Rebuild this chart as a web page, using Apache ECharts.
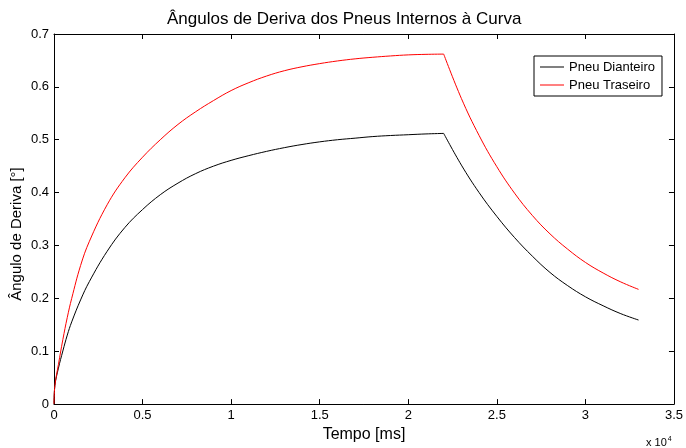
<!DOCTYPE html>
<html>
<head>
<meta charset="utf-8">
<script src="https://cdn.jsdelivr.net/npm/echarts@6/dist/echarts.min.js"></script>
<style>
  html, body { margin: 0; padding: 0; background: #fff; }
  #chart { width: 686px; height: 448px; }
</style>
</head>
<body>
<div id="chart"></div>
<script>
// Simulation time samples [ms]
const timeMs = [
  0, 50, 250, 500, 750, 1000, 1500, 2000, 3000, 4000, 5000, 6000, 7000, 8000,
  9000, 10000, 11000, 12000, 13000, 14000, 15000, 16000, 17000, 18000, 19000,
  20000, 21000, 22000, 23000, 24000, 25000, 26000, 27000, 28000, 29000, 30000,
  31000, 32000, 33000
];

// Slip angle of the front inner tyre [deg]
const pneuDianteiro = [
  0, 0.035, 0.068, 0.1005, 0.1305, 0.1555, 0.197, 0.232, 0.289, 0.334, 0.368, 0.396,
  0.418, 0.436, 0.45, 0.461, 0.47, 0.478, 0.485, 0.491, 0.496, 0.5, 0.503,
  0.506, 0.508, 0.5095, 0.511, 0.512, 0.452, 0.4, 0.355, 0.315, 0.28, 0.249,
  0.224, 0.203, 0.186, 0.171, 0.159
];

// Slip angle of the rear inner tyre [deg]
const pneuTraseiro = [
  0, 0.035, 0.075, 0.122, 0.164, 0.2, 0.262, 0.308, 0.377, 0.428, 0.467, 0.5,
  0.529, 0.553, 0.574, 0.593, 0.608, 0.6205, 0.6305, 0.638, 0.644, 0.649, 0.653,
  0.656, 0.6585, 0.6605, 0.6615, 0.662, 0.578, 0.508, 0.449, 0.399, 0.357, 0.322,
  0.293, 0.268, 0.248, 0.231, 0.217
];

// Instant the steering input is released [ms]
const tRelease = 22000;

const seriesNames = ['Pneu Dianteiro', 'Pneu Traseiro'];
const seriesColors = ['#000000', '#ff0000'];
const xTickStep = 5000;
const yTickStep = 0.1;

const FONT = 'Liberation Sans, Arial, sans-serif';

// Split a response into its build-up and decay branches so that each branch
// is smoothed on its own and the corner at the release instant stays sharp.
function branches(ys) {
  const pts = timeMs.map((t, i) => [t, ys[i]]);
  return [pts.filter(p => p[0] <= tRelease), pts.filter(p => p[0] >= tRelease)];
}

function lineSeries(name, color, data) {
  return {
    name,
    type: 'line',
    data,
    showSymbol: false,
    symbol: 'none',
    smooth: 0.4,
    color,
    lineStyle: { color, width: 1 },
    emphasis: { disabled: true }
  };
}

const series = [];
[pneuDianteiro, pneuTraseiro].forEach((ys, k) => {
  branches(ys).forEach(part => series.push(lineSeries(seriesNames[k], seriesColors[k], part)));
});

const axisLineStyle = { show: true, onZero: false, lineStyle: { color: '#000', width: 1 } };
const tickInside = { show: true, inside: true, length: 5, lineStyle: { color: '#000', width: 1 } };

const chart = echarts.init(document.getElementById('chart'), null, { renderer: 'canvas' });

chart.setOption({
  animation: false,
  backgroundColor: '#fff',
  textStyle: { fontFamily: FONT, color: '#000' },
  title: {
    text: 'Ângulos de Deriva dos Pneus Internos à Curva',
    left: 162,
    top: 6,
    textStyle: { fontFamily: FONT, fontSize: 17, fontWeight: 'normal', color: '#000' }
  },
  grid: { left: 54, right: 11, top: 34, bottom: 40, containLabel: false },
  legend: {
    data: seriesNames,
    orient: 'vertical',
    left: 534,
    top: 56,
    padding: [3, 7, 3, 6],
    itemGap: 2,
    itemWidth: 24,
    itemHeight: 1,
    itemStyle: { borderWidth: 0 },
    icon: 'rect',
    borderColor: '#000',
    borderWidth: 1,
    borderRadius: 0,
    backgroundColor: '#fff',
    textStyle: { fontFamily: FONT, fontSize: 13, color: '#000', lineHeight: 16 }
  },
  xAxis: [
    {
      type: 'value',
      position: 'bottom',
      min: 0,
      max: 35000,
      interval: xTickStep,
      name: 'Tempo [ms]',
      nameLocation: 'middle',
      nameGap: 20,
      nameTextStyle: { fontFamily: FONT, fontSize: 16, color: '#000' },
      axisLine: axisLineStyle,
      axisTick: tickInside,
      axisLabel: {
        color: '#000', fontFamily: FONT, fontSize: 13, margin: 5,
        formatter: (v) => String(+(v / 10000).toFixed(1))
      },
      splitLine: { show: false }
    },
    {
      type: 'value',
      position: 'top',
      min: 0,
      max: 35000,
      interval: xTickStep,
      axisLine: axisLineStyle,
      axisTick: tickInside,
      axisLabel: { show: false },
      splitLine: { show: false }
    }
  ],
  yAxis: [
    {
      type: 'value',
      position: 'left',
      min: 0,
      max: 0.7,
      interval: yTickStep,
      axisLine: axisLineStyle,
      axisTick: tickInside,
      axisLabel: {
        color: '#000', fontFamily: FONT, fontSize: 13, margin: 5,
        formatter: (v) => String(+v.toFixed(1))
      },
      splitLine: { show: false }
    },
    {
      type: 'value',
      position: 'right',
      min: 0,
      max: 0.7,
      interval: yTickStep,
      axisLine: axisLineStyle,
      axisTick: tickInside,
      axisLabel: { show: false },
      splitLine: { show: false }
    }
  ],
  graphic: [
    {
      type: 'text',
      x: 17,
      y: 234,
      rotation: Math.PI / 2,
      style: {
        text: 'Ângulo de Deriva [°]',
        fontFamily: FONT,
        fontSize: 15,
        fill: '#000',
        align: 'center',
        verticalAlign: 'middle'
      }
    },
    {
      type: 'text',
      x: 646,
      y: 436,
      style: {
        text: '{b|x 10}{s|4}',
        fontFamily: FONT,
        fill: '#000',
        rich: {
          b: { fontFamily: FONT, fontSize: 11, fill: '#000', verticalAlign: 'bottom', lineHeight: 12 },
          s: { fontFamily: FONT, fontSize: 7, fill: '#000', verticalAlign: 'top', lineHeight: 12, padding: [0, 0, 6, 1] }
        }
      }
    }
  ],
  series
});
</script>
</body>
</html>
